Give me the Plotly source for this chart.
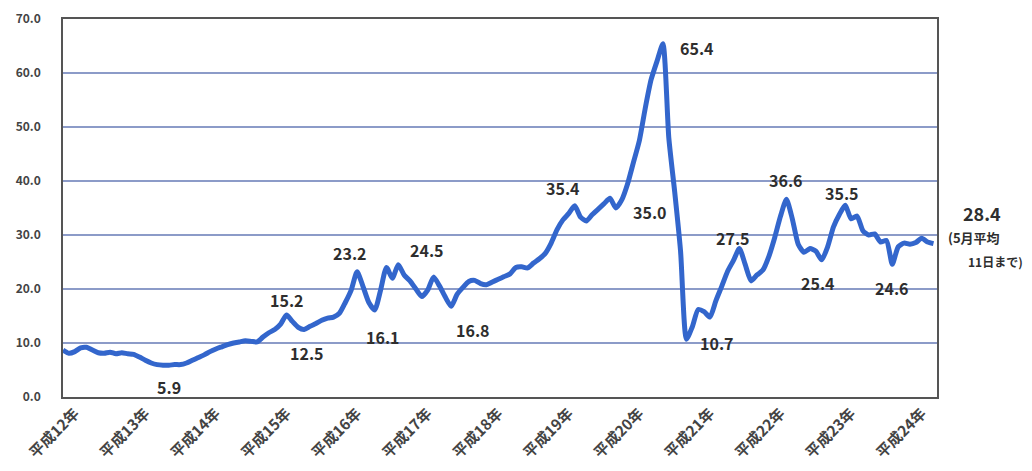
import plotly.graph_objects as go

# Monthly values, 平成12年1月 .. 平成24年5月
h12 = [8.7, 8.1, 8.4, 9.1, 9.2, 8.7, 8.2, 8.1, 8.3, 8.0, 8.2, 8.0]
h13 = [7.9, 7.4, 6.8, 6.3, 6.0, 5.9, 5.9, 6.0, 6.0, 6.3, 6.8, 7.3]
h14 = [7.8, 8.4, 8.9, 9.3, 9.7, 10.0, 10.2, 10.4, 10.3, 10.2, 11.1, 11.9]
h15 = [12.5, 13.5, 15.2, 14.0, 12.9, 12.5, 13.1, 13.6, 14.2, 14.6, 14.8, 15.5]
h16 = [17.5, 19.8, 23.2, 20.5, 17.5, 16.1, 19.8, 24.0, 22.0, 24.5, 22.6, 21.5]
h17 = [20.0, 18.6, 19.8, 22.2, 20.6, 18.5, 16.8, 19.0, 20.3, 21.4, 21.6, 21.0]
h18 = [20.8, 21.3, 21.8, 22.3, 22.8, 24.0, 24.1, 23.9, 24.8, 25.6, 26.6, 28.5]
h19 = [31.0, 32.8, 34.0, 35.4, 33.3, 32.6, 33.8, 34.8, 35.8, 36.8, 35.0, 36.5]
h20 = [39.5, 43.5, 47.5, 53.5, 58.8, 62.2, 65.4, 48.0, 38.0, 27.0, 10.7, 13.0]
h21 = [16.2, 15.8, 14.8, 17.8, 20.5, 23.3, 25.3, 27.5, 24.5, 21.5, 22.6, 23.5]
h22 = [26.0, 29.5, 33.5, 36.6, 33.0, 28.3, 26.8, 27.5, 27.0, 25.4, 27.8, 31.5]
h23 = [33.8, 35.5, 33.0, 33.5, 30.8, 30.0, 30.2, 28.7, 29.0, 24.6, 27.8, 28.5]
h24 = [28.3, 28.6, 29.4, 28.7, 28.4]

values = h12 + h13 + h14 + h15 + h16 + h17 + h18 + h19 + h20 + h21 + h22 + h23 + h24
months = list(range(len(values)))

year_labels = ["平成12年", "平成13年", "平成14年", "平成15年", "平成16年", "平成17年",
               "平成18年", "平成19年", "平成20年", "平成21年", "平成22年", "平成23年", "平成24年"]
year_ticks = [12 * k + 2.0 for k in range(len(year_labels))]

y_ticks = [0, 10, 20, 30, 40, 50, 60, 70]

# labelled points: (month index, x shift px, y shift px)
labelled = [(18, 0, -22), (38, 0, 15), (41, 3, -23), (50, -7, 19), (53, 8, -27),
            (57, 29, 15), (66, 22, -24), (87, -12, 18), (94, 34, -4), (102, 34, -4),
            (106, 31, -4), (115, -6, 11), (123, 0, 19), (129, -4, -23), (133, -3, 12),
            (141, 0, -24)]
note_line1 = "(5月平均"
note_line2 = "11日まで)"

JP = "Noto Sans CJK JP"
TXT = "#2e2e2e"

fig = go.Figure()
fig.add_trace(go.Scatter(
    x=months, y=values, mode="lines",
    line=dict(color="#3366cc", width=5, shape="spline", smoothing=0.6),
    hoverinfo="skip", showlegend=False,
))

for idx, dx, dy in labelled:
    fig.add_annotation(x=months[idx], y=values[idx], text=f"{values[idx]:.1f}",
                       showarrow=False, xshift=dx, yshift=dy,
                       font=dict(family=JP, size=16, color=TXT, weight="bold"))

last = len(values) - 1
fig.add_annotation(x=months[last], y=values[last], text=f"{values[last]:.1f}",
                   showarrow=False, xshift=49, yshift=31,
                   font=dict(family=JP, size=18, color=TXT, weight="bold"))
fig.add_annotation(x=months[last], y=values[last], text=note_line1,
                   showarrow=False, xshift=13, yshift=6, xanchor="left",
                   font=dict(family=JP, size=13, color=TXT, weight="bold"))
fig.add_annotation(x=months[last], y=values[last], text=note_line2,
                   showarrow=False, xshift=33, yshift=-18, xanchor="left",
                   font=dict(family=JP, size=12, color=TXT, weight="bold"))

fig.update_xaxes(
    range=[0, 148.6], tickvals=year_ticks, ticktext=year_labels, tickangle=-45,
    showgrid=False, zeroline=False, showline=True, linecolor="#555555", linewidth=1.5,
    mirror=True, ticks="", automargin=False,
    tickfont=dict(family=JP, size=15, color="#444444", weight="bold"),
)
fig.update_yaxes(
    range=[0, 70], tickvals=y_ticks, tickformat=".1f",
    showgrid=True, gridcolor="#8c9bc8", gridwidth=1.5, zeroline=False,
    showline=True, linecolor="#555555", linewidth=1.5, mirror=True, ticks="",
    automargin=False, ticklabelstandoff=18,
    tickfont=dict(family=JP, size=12, color="#444444", weight="bold"),
)
fig.update_layout(
    width=1032, height=471,
    margin=dict(l=63, r=95, t=19, b=74),
    paper_bgcolor="white", plot_bgcolor="white",
)
fig.write_html("out.html")
